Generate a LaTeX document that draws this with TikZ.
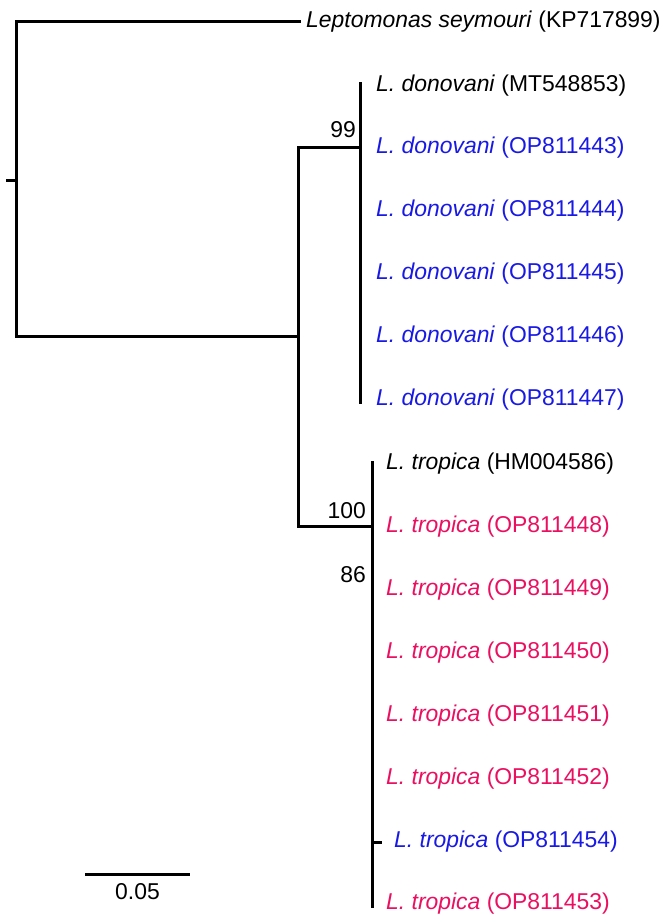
\documentclass[tikz,border=0pt]{standalone}
\usepackage{fontspec}
\setmainfont{Liberation Sans}
\definecolor{tblue}{RGB}{25,25,230}
\definecolor{tpink}{RGB}{235,15,95}
\begin{document}
\begin{tikzpicture}[x=1pt,y=-1pt,
  br/.style={line width=3pt,line cap=rect},
  lab/.style={anchor=west,inner sep=0pt,font=\fontsize{22.9}{27}\selectfont},
  bs/.style={anchor=base east,inner sep=0pt,font=\fontsize{22.9}{27}\selectfont}]
\useasboundingbox (0,0) rectangle (671,915);
% inner nodes
\coordinate (rootl) at (7,180);
\coordinate (root) at (16,180);
\coordinate (rtop) at (16,22);
\coordinate (rbot) at (16,336);
\coordinate (lt) at (299,22);
\coordinate (lm) at (298,336);
\coordinate (lmt) at (298,147);
\coordinate (lmb) at (298,526);
\coordinate (dn) at (360,147);
\coordinate (dtop) at (360,84);
\coordinate (dbot) at (360,402);
\coordinate (tn) at (372,526);
\coordinate (ttop) at (372,462);
\coordinate (tbot) at (372,906);
\coordinate (tsub) at (372,842);
\coordinate (tsubt) at (380,842);
% branches
\draw[br] (rootl) -- (root);
\draw[br] (rtop) -- (rbot);
\draw[br] (rtop) -- (lt);
\draw[br] (rbot) -- (lm);
\draw[br] (lmt) -- (lmb);
\draw[br] (lmt) -- (dn);
\draw[br] (dtop) -- (dbot);
\draw[br] (lmb) -- (tn);
\draw[br] (ttop) -- (tbot);
\draw[br] (tsub) -- (tsubt);
% labels
\node[lab] (lep) at (306,22) {\textit{Leptomonas seymouri} (KP717899)};
\node[lab] (d1) at (376,86) {\textit{L. donovani} (MT548853)};
\node[lab,text=tblue] (d2) at (376,148) {\textit{L. donovani} (OP811443)};
\node[lab,text=tblue] (d3) at (376,211) {\textit{L. donovani} (OP811444)};
\node[lab,text=tblue] (d4) at (376,274) {\textit{L. donovani} (OP811445)};
\node[lab,text=tblue] (d5) at (376,337) {\textit{L. donovani} (OP811446)};
\node[lab,text=tblue] (d6) at (376,400) {\textit{L. donovani} (OP811447)};
\node[lab] (t1) at (386,464) {\textit{L. tropica} (HM004586)};
\node[lab,text=tpink] (t2) at (386,527) {\textit{L. tropica} (OP811448)};
\node[lab,text=tpink] (t3) at (386,590) {\textit{L. tropica} (OP811449)};
\node[lab,text=tpink] (t4) at (386,653) {\textit{L. tropica} (OP811450)};
\node[lab,text=tpink] (t5) at (386,716) {\textit{L. tropica} (OP811451)};
\node[lab,text=tpink] (t6) at (386,779) {\textit{L. tropica} (OP811452)};
\node[lab,text=tblue] (t7) at (394,842) {\textit{L. tropica} (OP811454)};
\node[lab,text=tpink] (t8) at (386,904) {\textit{L. tropica} (OP811453)};
% bootstrap
\node[bs] (b99) at (356,138) {99};
\node[bs] (b100) at (366,518) {100};
\node[bs] (b86) at (366,582) {86};
% scale bar
\coordinate (sl) at (85,874);
\coordinate (sr) at (190,874);
\draw[line width=3pt] (sl) -- (sr);
\node[inner sep=0pt,anchor=base,font=\fontsize{22.9}{27}\selectfont] (sc) at (137.5,899) {0.05};
\end{tikzpicture}
\end{document}
